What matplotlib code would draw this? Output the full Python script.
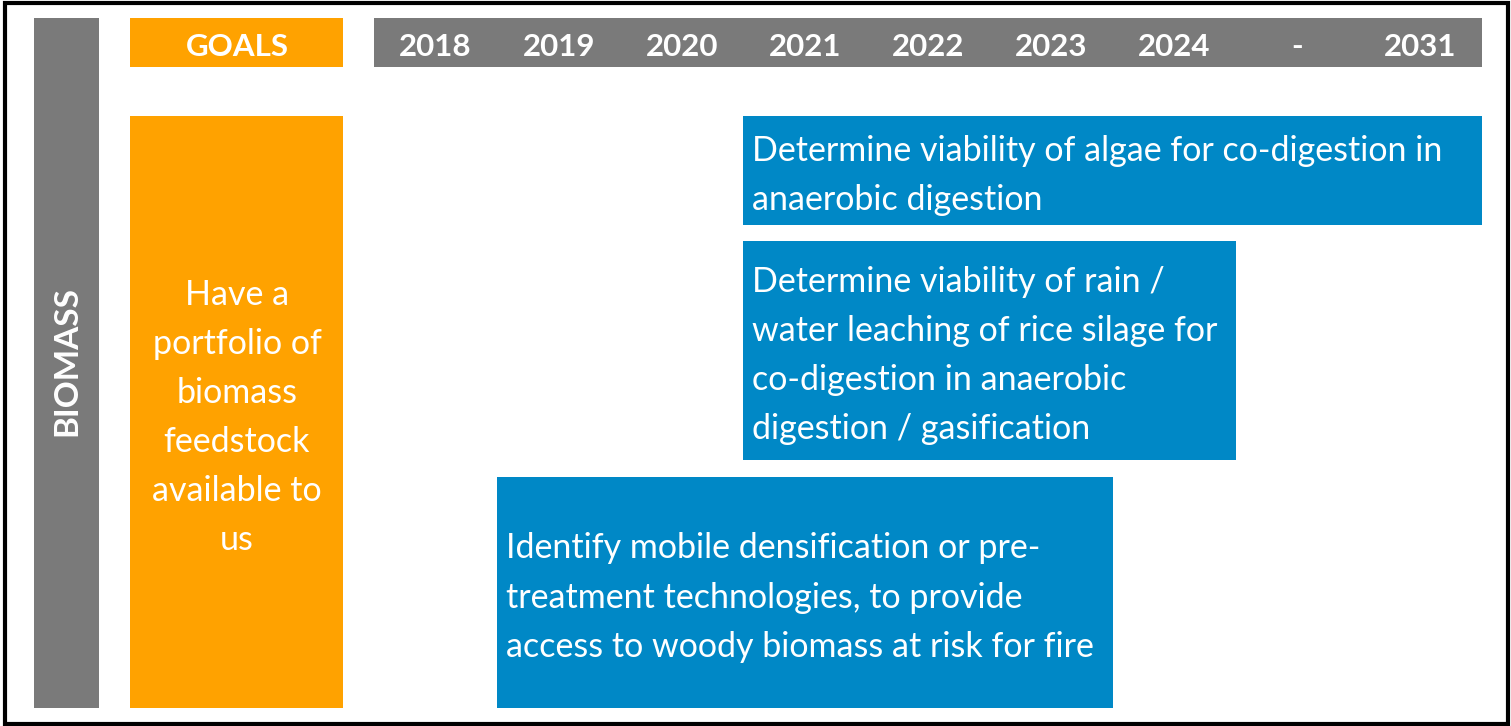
import matplotlib.pyplot as plt
from matplotlib.patches import Rectangle

plt.rcParams["font.family"] = ["Lato", "DejaVu Sans"]

# header columns
years = ["2018", "2019", "2020", "2021", "2022", "2023", "2024", "-", "2031"]

# goal
section = "BIOMASS"
goal = "Have a\nportfolio of\nbiomass\nfeedstock\navailable to\nus"

# tasks: text, first column, last column (index into years)
task_texts = [
    "Determine viability of algae for co-digestion in\nanaerobic digestion",
    "Determine viability of rain /\nwater leaching of rice silage for\nco-digestion in anaerobic\ndigestion / gasification",
    "Identify mobile densification or pre-\ntreatment technologies, to provide\naccess to woody biomass at risk for fire",
]
task_start = [3, 3, 1]
task_end = [8, 6, 5]

GRAY = "#7a7a7a"
ORANGE = "#ffa200"
BLUE = "#0088c6"

W, H = 1511, 726
fig = plt.figure(figsize=(W / 100, H / 100), dpi=100)
ax = fig.add_axes([0, 0, 1, 1])
ax.set_xlim(0, W)
ax.set_ylim(H, 0)
ax.axis("off")

# outer frame
ax.add_patch(Rectangle((4.5, 2.5), 1503, 721, fill=False, lw=3, ec="black"))

# section bar
ax.add_patch(Rectangle((34, 18), 65, 690, color=GRAY, lw=0))
ax.text(67, 361, section, rotation=90, ha="center", va="center",
        color="white", fontsize=24, fontweight="bold")

# goals header + goal box
ax.add_patch(Rectangle((130, 18), 213, 49, color=ORANGE, lw=0))
ax.text(237, 46.5, "GOALS", ha="center", va="center", color="white",
        fontsize=22.5, fontweight="bold")
ax.add_patch(Rectangle((130, 116), 213, 592, color=ORANGE, lw=0))
ax.text(237, 417.5, goal, ha="center", va="center", color="white",
        fontsize=24.5, linespacing=1.66)

# year header
x0, x1 = 374, 1482
col = (x1 - x0) / len(years)
ax.add_patch(Rectangle((x0, 18), x1 - x0, 49, color=GRAY, lw=0))
for i, y in enumerate(years):
    ax.text(x0 + col * (i + 0.5), 46.5, y, ha="center", va="center",
            color="white", fontsize=22.5, fontweight="bold")

# task boxes
rows = [(116, 225), (241, 460), (477, 708)]
for text, s, e, (top, bot) in zip(task_texts, task_start, task_end, rows):
    left = x0 + col * s
    right = x0 + col * (e + 1)
    ax.add_patch(Rectangle((left, top), right - left, bot - top,
                           color=BLUE, lw=0))
    ax.text(left + 9, (top + bot) / 2 + 5, text, ha="left", va="center",
            color="white", fontsize=24.5, linespacing=1.66)

fig.savefig("out.png", dpi=100)
